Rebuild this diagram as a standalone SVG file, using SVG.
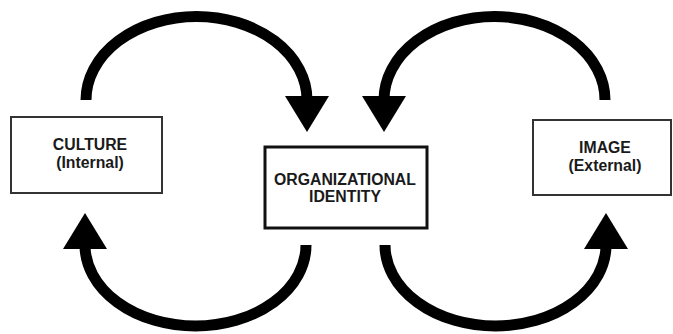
<svg xmlns="http://www.w3.org/2000/svg" width="673" height="334" viewBox="0 0 673 334">
<style>
.box{fill:#fff;stroke:#333;stroke-width:2}
.main{fill:#fff;stroke:#111;stroke-width:3}
.lbl{font-family:"Liberation Sans",Arial,sans-serif;font-weight:bold;font-size:15.8px;fill:#1a1a1a;text-anchor:middle}
.arc{fill:none;stroke:#000;stroke-width:11}
.head{fill:#000}
</style>
<rect width="673" height="334" fill="#fff"/>
<g id="connectors">
<path class="arc" d="M86,100 A110.5,83.5 0 0 1 307,100"/>
<polygon class="head" points="285,96 329,96 307,132"/>
<path class="arc" d="M605,100 A110.5,83.5 0 0 0 384,100"/>
<polygon class="head" points="362,96 406,96 384,132"/>
<path class="arc" d="M306,245 A110.5,81 0 0 1 85,245"/>
<polygon class="head" points="63,249 107,249 85,213"/>
<path class="arc" d="M385,245 A110.5,81 0 0 0 606,245"/>
<polygon class="head" points="584,249 628,249 606,213"/>
</g>
<g id="culture">
<rect class="box" x="11" y="117" width="151" height="76"/>
<text class="lbl" x="90" y="150">CULTURE</text>
<text class="lbl" x="90" y="168">(Internal)</text>
</g>
<g id="identity">
<rect class="main" x="265" y="147" width="162" height="81"/>
<text class="lbl" x="345" y="185">ORGANIZATIONAL</text>
<text class="lbl" x="345" y="202">IDENTITY</text>
</g>
<g id="image">
<rect class="box" x="533" y="120" width="138" height="75"/>
<text class="lbl" x="605" y="153">IMAGE</text>
<text class="lbl" x="605" y="171">(External)</text>
</g>
</svg>
